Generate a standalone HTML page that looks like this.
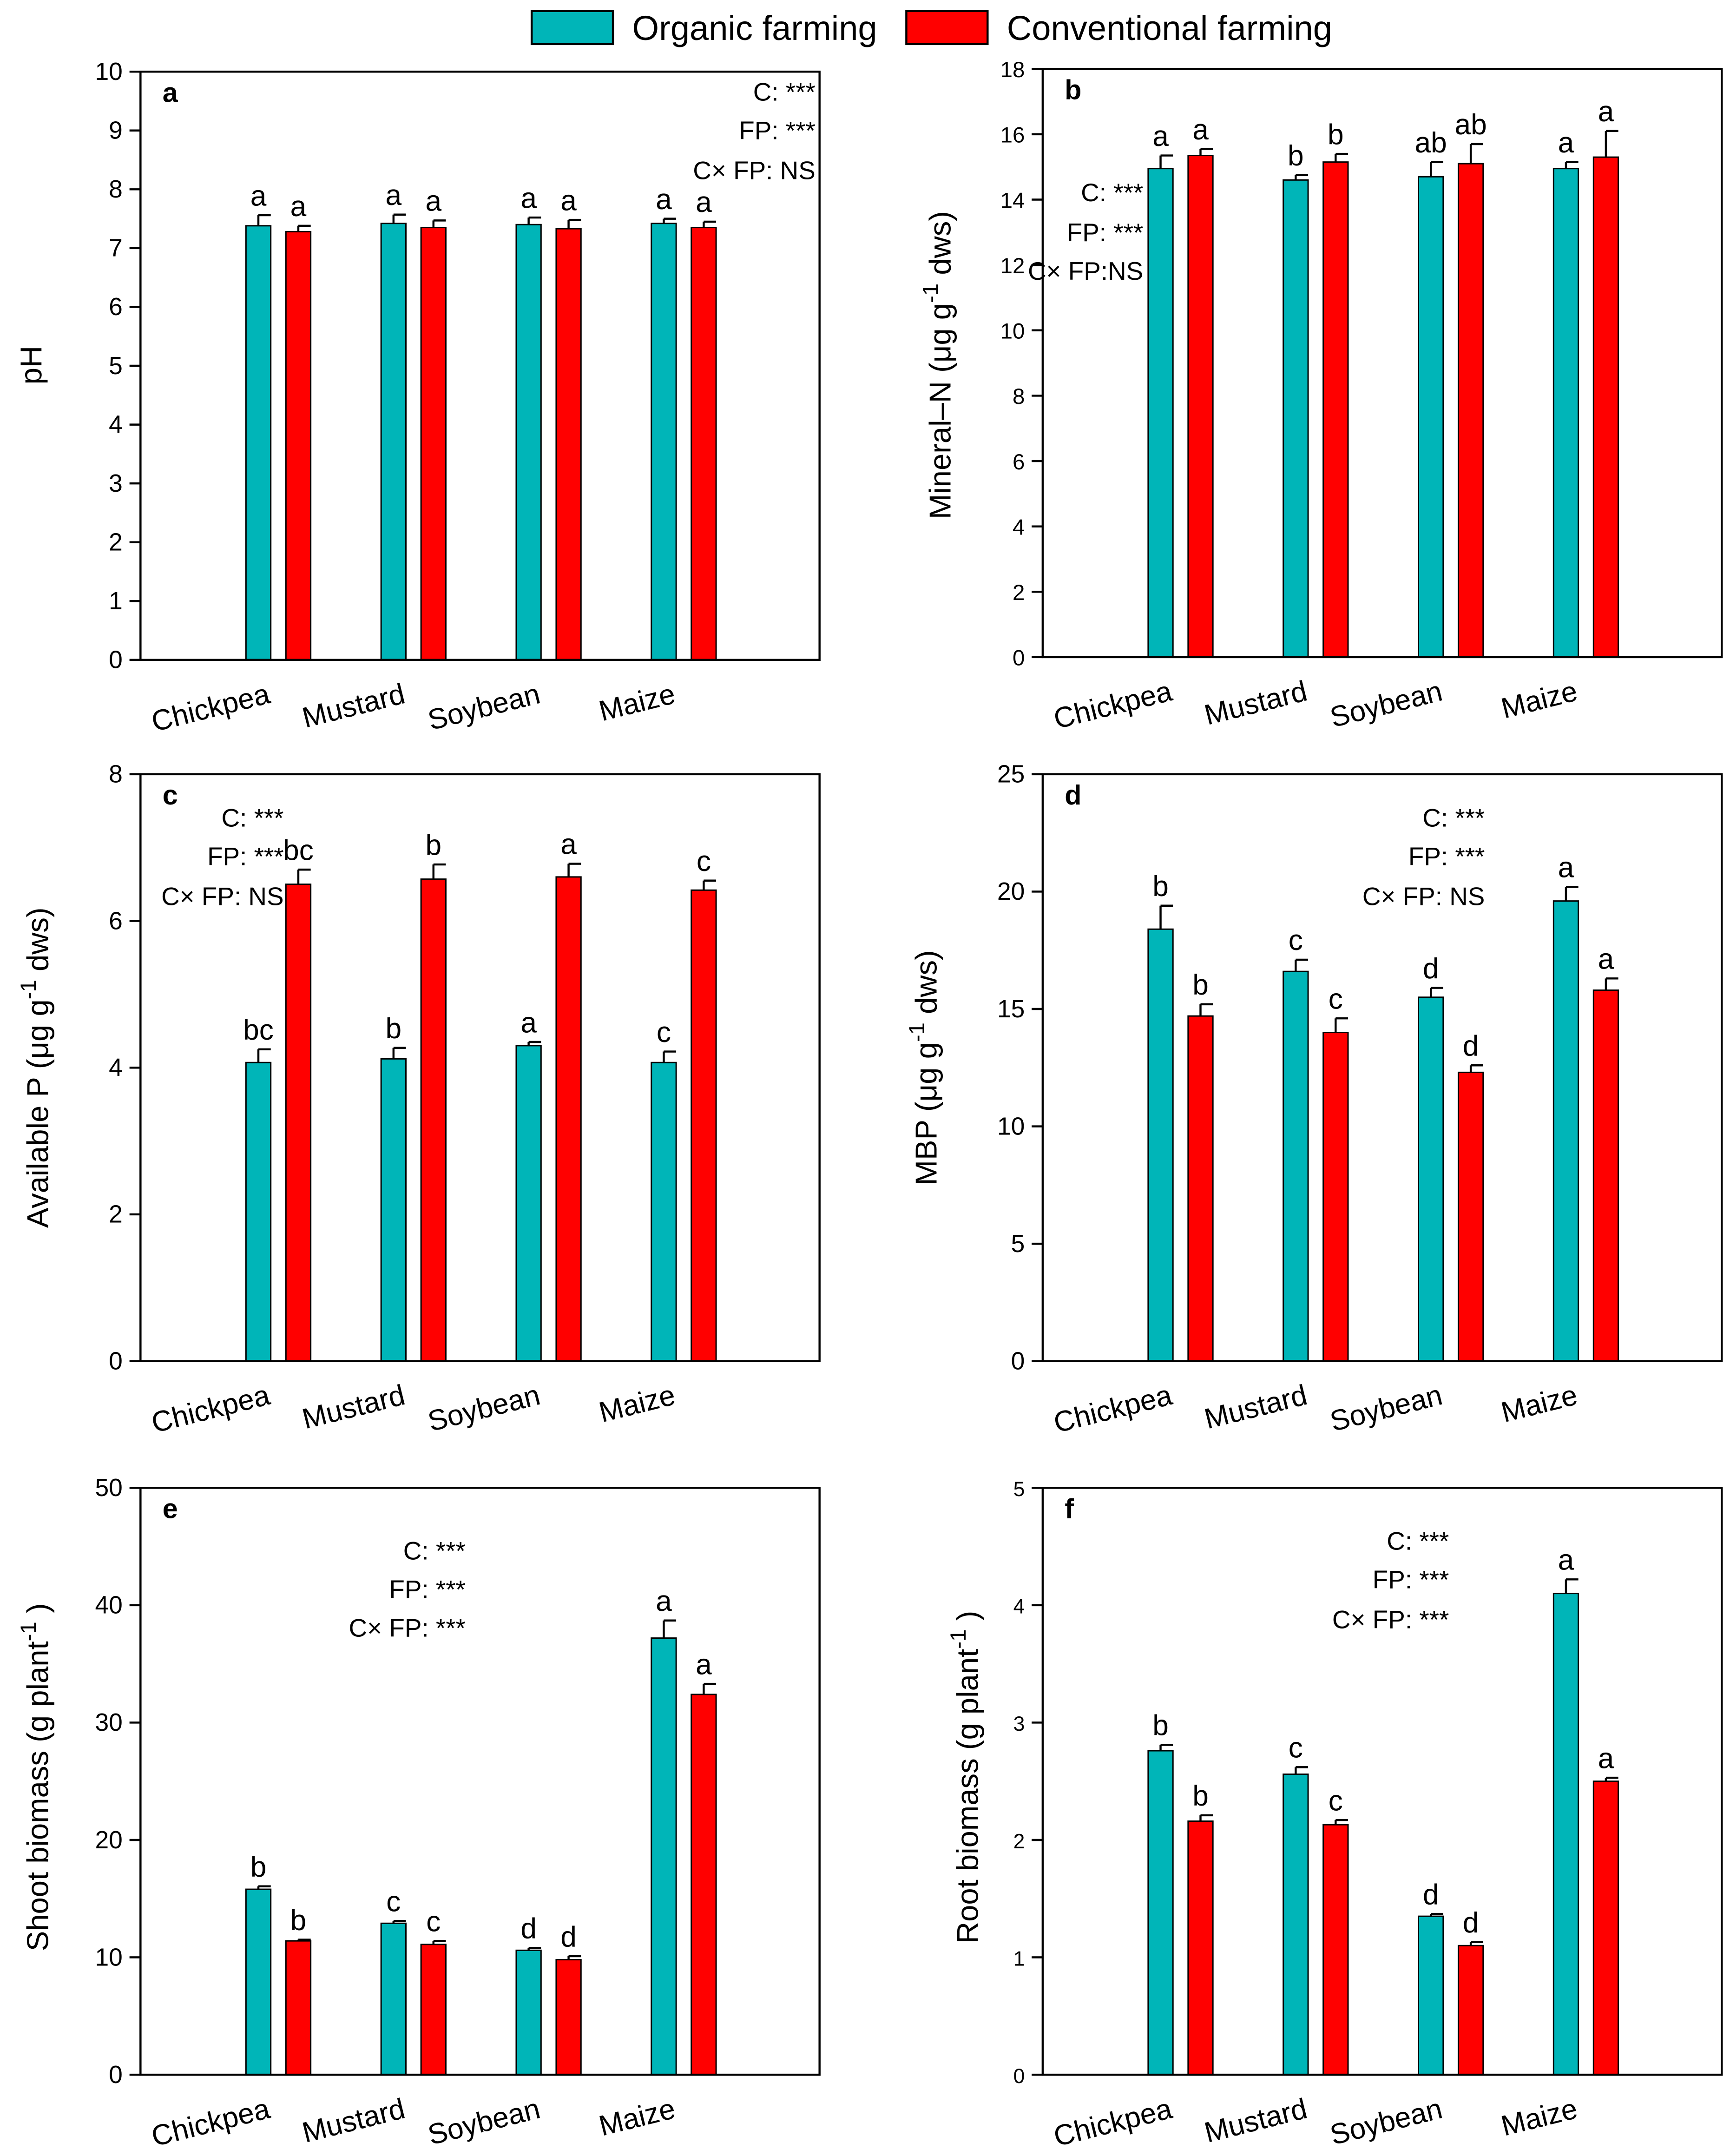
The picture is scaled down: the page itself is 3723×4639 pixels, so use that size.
<!DOCTYPE html>
<html><head><meta charset="utf-8"><style>
html,body{margin:0;padding:0;background:#fff}
svg{display:block}
text{font-family:"Liberation Sans",Arial,sans-serif;fill:#000}
</style></head><body>
<svg id="chart" width="3723" height="4639" viewBox="0 0 1256 1565" xmlns="http://www.w3.org/2000/svg">
<g>
<rect x="386" y="8" width="59" height="24" fill="#00B5B8" stroke="#000" stroke-width="1.5"/>
<text x="459" y="29" font-size="25">Organic farming</text>
<rect x="658" y="8" width="59" height="24" fill="#FF0000" stroke="#000" stroke-width="1.5"/>
<text x="731" y="29" font-size="25">Conventional farming</text>
</g>
</svg>
<script>
const categories=["Chickpea","Mustard","Soybean","Maize"];
const aOrg=[7.38,7.42,7.4,7.42], aConv=[7.28,7.35,7.33,7.35], aOrgErr=[0.18,0.15,0.12,0.08], aConvErr=[0.1,0.12,0.15,0.1];
const aOrgLbl=["a","a","a","a"], aConvLbl=["a","a","a","a"];
const bOrg=[14.95,14.6,14.7,14.95], bConv=[15.35,15.15,15.1,15.3], bOrgErr=[0.4,0.15,0.45,0.2], bConvErr=[0.2,0.25,0.6,0.8];
const bOrgLbl=["a","b","ab","a"], bConvLbl=["a","b","ab","a"];
const cOrg=[4.07,4.12,4.3,4.07], cConv=[6.5,6.57,6.6,6.42], cOrgErr=[0.18,0.15,0.05,0.15], cConvErr=[0.2,0.2,0.18,0.13];
const cOrgLbl=["bc","b","a","c"], cConvLbl=["bc","b","a","c"];
const dOrg=[18.4,16.6,15.5,19.6], dConv=[14.7,14.0,12.3,15.8], dOrgErr=[1.0,0.5,0.4,0.6], dConvErr=[0.5,0.6,0.3,0.5];
const dOrgLbl=["b","c","d","a"], dConvLbl=["b","c","d","a"];
const eOrg=[15.8,12.9,10.6,37.2], eConv=[11.4,11.1,9.8,32.4], eOrgErr=[0.25,0.2,0.2,1.5], eConvErr=[0.1,0.3,0.3,0.9];
const eOrgLbl=["b","c","d","a"], eConvLbl=["b","c","d","a"];
const fOrg=[2.76,2.56,1.35,4.1], fConv=[2.16,2.13,1.1,2.5], fOrgErr=[0.05,0.06,0.02,0.12], fConvErr=[0.05,0.04,0.03,0.03];
const fOrgLbl=["b","c","d","a"], fConvLbl=["b","c","d","a"];
const aTicks=[0,1,2,3,4,5,6,7,8,9,10], bTicks=[0,2,4,6,8,10,12,14,16,18], cTicks=[0,2,4,6,8], dTicks=[0,5,10,15,20,25], eTicks=[0,10,20,30,40,50], fTicks=[0,1,2,3,4,5];

const NS="http://www.w3.org/2000/svg";
const svg=document.getElementById('chart');
function mk(tag,attrs,parent){const e=document.createElementNS(NS,tag);for(const k in attrs)e.setAttribute(k,attrs[k]);(parent||svg).appendChild(e);return e;}

const panels=[
{id:'a',x0:102,x1:595,y0:52,y1:479,ticks:aTicks,org:aOrg,conv:aConv,oe:aOrgErr,ce:aConvErr,ol:aOrgLbl,cl:aConvLbl,tfs:18,
 title:'pH',tx:30,ty:265,stats:{x:592,anchor:'end',ys:[73,101,130],t:['C: ***','FP: ***','C× FP: NS']}},
{id:'b',x0:757,x1:1250,y0:50,y1:477,ticks:bTicks,org:bOrg,conv:bConv,oe:bOrgErr,ce:bConvErr,ol:bOrgLbl,cl:bConvLbl,tfs:16,
 title:'Mineral–N (μg g<sup>-1</sup> dws)',tx:690,ty:265,stats:{x:830,anchor:'end',ys:[146,175,203],t:['C: ***','FP: ***','C× FP:NS']}},
{id:'c',x0:102,x1:595,y0:562,y1:988,ticks:cTicks,org:cOrg,conv:cConv,oe:cOrgErr,ce:cConvErr,ol:cOrgLbl,cl:cConvLbl,tfs:18,
 title:'Available P (μg g<sup>-1</sup> dws)',tx:35,ty:775,stats:{x:206,anchor:'end',ys:[600,628,657],t:['C: ***','FP: ***','C× FP: NS']}},
{id:'d',x0:757,x1:1250,y0:562,y1:988,ticks:dTicks,org:dOrg,conv:dConv,oe:dOrgErr,ce:dConvErr,ol:dOrgLbl,cl:dConvLbl,tfs:18,
 title:'MBP (μg g<sup>-1</sup> dws)',tx:680,ty:775,stats:{x:1078,anchor:'end',ys:[600,628,657],t:['C: ***','FP: ***','C× FP: NS']}},
{id:'e',x0:102,x1:595,y0:1080,y1:1506,ticks:eTicks,org:eOrg,conv:eConv,oe:eOrgErr,ce:eConvErr,ol:eOrgLbl,cl:eConvLbl,tfs:18,
 title:'Shoot biomass (g plant<sup>-1</sup>)',tx:35,ty:1290,stats:{x:338,anchor:'end',ys:[1132,1160,1188],t:['C: ***','FP: ***','C× FP: ***']}},
{id:'f',x0:757,x1:1250,y0:1080,y1:1506,ticks:fTicks,org:fOrg,conv:fConv,oe:fOrgErr,ce:fConvErr,ol:fOrgLbl,cl:fConvLbl,tfs:15,
 title:'Root biomass (g plant<sup>-1</sup>)',tx:710,ty:1290,stats:{x:1052,anchor:'end',ys:[1125,1153,1182],t:['C: ***','FP: ***','C× FP: ***']}}
];

panels.forEach(p=>{
 const g=mk('g',{});
 
 
 const max=p.ticks[p.ticks.length-1];
 const y=v=>p.y1-(v/max)*(p.y1-p.y0);
 const step=(p.x1-p.x0)*0.199;
 const cx=i=>p.x0+ (p.x1-p.x0)*0.203 + i*step;
 const bw=18;
 categories.forEach((c,i)=>{
  const xc=cx(i);
  [[p.org,p.oe,p.ol,'#00B5B8',-bw-5.5,'organic'],[p.conv,p.ce,p.cl,'#FF0000',5.5,'conventional']].forEach(([vals,errs,lbls,col,off,nm])=>{
   const xl=xc+off, v=vals[i], top=y(v), et=y(v+errs[i]);
   const r=mk('rect',{x:xl,y:top,width:bw,height:p.y1-top,fill:col,stroke:'#000','stroke-width':1},g);
   
   
   const m=xl+bw/2;
   const eb=mk('path',{d:`M${m},${top}V${et}M${m},${et}H${xl+bw}`,stroke:'#000','stroke-width':1.5,fill:'none'},g);
   
   
   const t=mk('text',{x:m,y:et-7,'text-anchor':'middle','font-size':21},g);
   t.textContent=lbls[i];
   
   
  });
  const lx=xc-5, ly=p.y1+31;
  const cl=mk('text',{x:lx,y:ly,'text-anchor':'end','font-size':21,transform:`rotate(-14 ${lx} ${ly})`},g);
  cl.textContent=c;
  
  
 });
 const box=mk('rect',{x:p.x0,y:p.y0,width:p.x1-p.x0,height:p.y1-p.y0,fill:'none',stroke:'#000','stroke-width':1.5},g);
 
 
 p.ticks.forEach(t=>{
  const yy=y(t);
  const tk=mk('line',{x1:p.x0-8,x2:p.x0,y1:yy,y2:yy,stroke:'#000','stroke-width':1.5},g);
  
  
  const tl=mk('text',{x:p.x0-13,y:yy+6,'text-anchor':'end','font-size':p.tfs},g);
  tl.textContent=t;
  
  
 });
 const pl=mk('text',{x:p.x0+16,y:p.y0+22,'font-size':20,'font-weight':'bold'},g);
 pl.textContent=p.id;
 
 
 p.stats.t.forEach((s,k)=>{
  const st=mk('text',{x:p.stats.x,y:p.stats.ys[k],'text-anchor':p.stats.anchor,'font-size':18.5},g);
  st.textContent=s;
  
  
 });
 const yt=mk('text',{x:p.tx,y:p.ty,'text-anchor':'middle','font-size':22,transform:`rotate(-90 ${p.tx} ${p.ty})`},g);
 yt.innerHTML=p.title.replace('<sup>-1</sup>','<tspan dy="-9" font-size="16">-1</tspan><tspan dy="9"> </tspan>').replace('> </tspan> ','> </tspan>');
 
 
});
</script>
</body></html>
